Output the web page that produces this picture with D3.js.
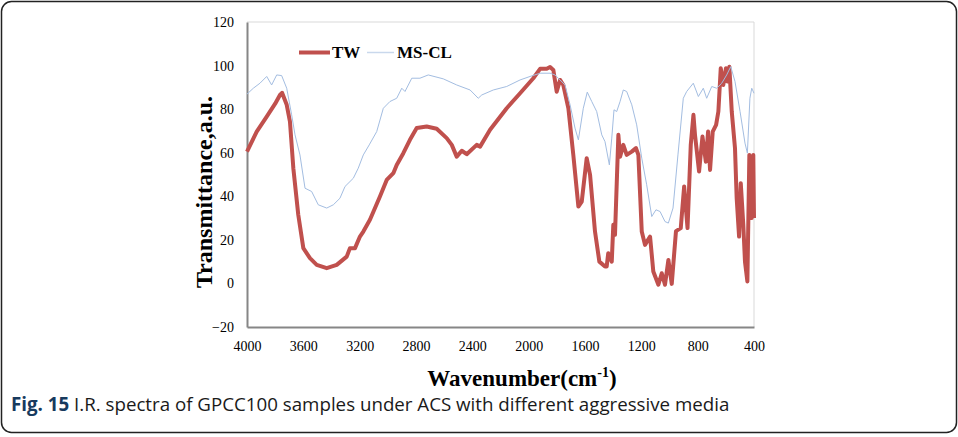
<!DOCTYPE html>
<html>
<head>
<meta charset="utf-8">
<script src="https://cdn.jsdelivr.net/npm/d3@7"></script>
<style>
  body { margin: 0; background: #fff; }
  svg { display: block; }
</style>
</head>
<body>
<svg id="chart" width="958" height="437"></svg>
<script>
// series: [wavenumber, transmittance]
var twData = [
  [4000, 60.5], [3931, 69.7], [3860, 76.6], [3800, 82.5], [3766, 86.5], [3751, 87.5],
  [3718, 82], [3695, 74.3], [3671, 52.9], [3636, 31.5], [3600, 16.2], [3553, 11.6],
  [3505, 8.5], [3434, 7.0], [3363, 8.5], [3292, 12.3], [3269, 16.2], [3233, 16.2],
  [3198, 21.5], [3174, 23.8], [3127, 29.2], [3056, 39.9], [3008, 47.5], [2961, 50.6],
  [2937, 54.4], [2890, 59.8], [2843, 65.9], [2795, 71.3], [2724, 72], [2653, 71],
  [2582, 66.7], [2546, 63.6], [2511, 58.2], [2475, 60.9], [2440, 59.3], [2369, 63.6],
  [2345, 62.8], [2274, 70.5], [2156, 80.4], [2061, 87.3], [1967, 94.2], [1919, 98.5],
  [1872, 98.5], [1848, 99.3], [1825, 98], [1801, 88], [1777, 93.4], [1754, 91.1],
  [1718, 80.4], [1683, 59], [1647, 35.3], [1623, 37.6], [1588, 57.5], [1564, 49.8],
  [1529, 23.8], [1498, 10], [1458, 7.8], [1446, 7.8], [1435, 13.9], [1410, 10],
  [1399, 26.9], [1387, 22.3], [1363, 68.2], [1351, 58.2], [1328, 63.6], [1304, 59],
  [1268, 60.5], [1238, 62.1], [1221, 59], [1197, 23.8], [1174, 17.7], [1138, 21.5],
  [1115, 5.5], [1079, -0.6], [1055, 4.7], [1032, -0.6], [1008, 10.8], [984, -0.2],
  [954, 24], [920, 25.4], [896, 44.5], [872, 25.4], [849, 63.6], [830, 77.4],
  [819, 68.2], [790, 51.4], [766, 67.4], [742, 55.9], [726, 69.7], [712, 52.1],
  [693, 69.7], [669, 72.8], [653, 78.9], [636, 98.8], [618, 91.1], [599, 98.8],
  [589, 92.7], [575, 99.5], [558, 78.9], [535, 62.1], [523, 39.1], [506, 21.5],
  [494, 46], [476, 26.9], [464, 10], [447, 0.9], [433, 59], [416, 30], [405, 59], [400, 30]
];

var msclData = [
  [4000, 86.9], [3955, 89.6], [3908, 91.9], [3860, 95], [3825, 91.1], [3789, 95.7],
  [3754, 95.4], [3718, 89.6], [3683, 77.4], [3659, 68.2], [3624, 59], [3588, 43.7],
  [3541, 42.2], [3494, 36.1], [3434, 34.6], [3387, 36.1], [3340, 39.1], [3304, 44.5],
  [3245, 48.3], [3210, 52.9], [3174, 59], [3132, 63.6], [3079, 69.7], [3032, 80.4],
  [2985, 83.5], [2937, 85], [2901, 89.6], [2878, 88.1], [2830, 94.2], [2772, 94.2],
  [2713, 95.7], [2606, 93.9], [2511, 91.1], [2416, 88.8], [2358, 85], [2333, 86.5],
  [2251, 88.8], [2156, 90.4], [2061, 93.4], [1990, 95], [1919, 96.5], [1848, 96.5],
  [1813, 95.7], [1777, 93.4], [1742, 91.1], [1706, 82], [1671, 71.3], [1647, 65.9],
  [1612, 80.4], [1584, 87.8], [1552, 83.5], [1517, 78.9], [1481, 68.2], [1458, 65.1],
  [1427, 54.4], [1410, 66.7], [1394, 79.7], [1375, 78.9], [1351, 83.5], [1328, 88.8],
  [1304, 88.1], [1268, 82], [1233, 72.8], [1197, 57.5], [1162, 45.3], [1126, 30.7],
  [1096, 33.8], [1067, 33], [1032, 28.4], [1008, 27.7], [975, 34.6], [940, 59],
  [902, 85], [878, 88.1], [831, 91.9], [795, 85.8], [760, 89.6], [736, 85],
  [700, 90.4], [665, 89.6], [629, 91.9], [594, 95.7], [565, 99.5], [535, 92.7],
  [499, 78.9], [464, 64.4], [447, 59.8], [429, 85], [416, 89.6], [400, 87.3]
];

var xTicks = [4000, 3600, 3200, 2800, 2400, 2000, 1600, 1200, 800, 400];
var yTicks = [-20, 0, 20, 40, 60, 80, 100, 120];
var seriesNames = ['TW', 'MS-CL'];

var svg = d3.select('#chart');
var plotLeft = 247, plotRight = 754, plotTop = 22, plotBottom = 327;

var x = d3.scaleLinear().domain([4000, 400]).range([plotLeft, plotRight]);
var y = d3.scaleLinear().domain([-20, 120]).range([plotBottom, plotTop]);

var serif = '"Liberation Serif", "Times New Roman", serif';

// outer frame
svg.append('rect')
    .attr('x', 1.5).attr('y', 1.5)
    .attr('width', 955).attr('height', 431)
    .attr('rx', 10).attr('ry', 10)
    .attr('fill', 'none')
    .attr('stroke', '#222')
    .attr('stroke-width', 1.5);

// plot border (top/right light)
svg.append('path')
    .attr('d', 'M' + plotLeft + ',' + plotTop + 'H' + plotRight + 'V' + plotBottom)
    .attr('fill', 'none')
    .attr('stroke', '#d9d9d9')
    .attr('stroke-width', 1);

var yAxis = svg.append('g')
    .attr('transform', 'translate(' + plotLeft + ',0)')
    .call(d3.axisLeft(y).tickValues(yTicks).tickSize(0).tickPadding(13).tickFormat(d3.format('d')));
yAxis.select('.domain').attr('stroke', '#868686').attr('stroke-width', 2);
yAxis.selectAll('text')
    .attr('font-family', serif).attr('font-size', 14).attr('fill', '#000');

var xAxis = svg.append('g')
    .attr('transform', 'translate(0,' + plotBottom + ')')
    .call(d3.axisBottom(x).tickValues(xTicks).tickSize(0).tickPadding(14).tickFormat(d3.format('d')));
xAxis.select('.domain').attr('stroke', '#868686').attr('stroke-width', 2);
xAxis.selectAll('text')
    .attr('font-family', serif).attr('font-size', 14).attr('fill', '#000');

var line = d3.line()
    .x(function (d) { return x(d[0]); })
    .y(function (d) { return y(d[1]); });

svg.append('path')
    .datum(twData)
    .attr('d', line)
    .attr('fill', 'none')
    .attr('stroke', '#C0504D')
    .attr('stroke-width', 4)
    .attr('stroke-linejoin', 'round');

svg.append('path')
    .datum(msclData)
    .attr('d', line)
    .attr('fill', 'none')
    .attr('stroke', '#A3BDE1')
    .attr('stroke-width', 1)
    .attr('stroke-linejoin', 'round');

// legend
var legend = svg.append('g');
legend.append('line')
    .attr('x1', 299).attr('x2', 330).attr('y1', 52.5).attr('y2', 52.5)
    .attr('stroke', '#C0504D').attr('stroke-width', 4);
legend.append('text')
    .attr('x', 332).attr('y', 58)
    .attr('font-family', serif).attr('font-size', 17).attr('font-weight', 'bold')
    .text(seriesNames[0]);
legend.append('line')
    .attr('x1', 367).attr('x2', 394).attr('y1', 52.5).attr('y2', 52.5)
    .attr('stroke', '#C9D8EC').attr('stroke-width', 1.5);
legend.append('text')
    .attr('x', 397).attr('y', 58)
    .attr('font-family', serif).attr('font-size', 17).attr('font-weight', 'bold')
    .text(seriesNames[1]);

// axis titles
svg.append('text')
    .attr('transform', 'translate(212,' + 192 + ') rotate(-90)')
    .attr('text-anchor', 'middle')
    .attr('font-family', serif).attr('font-size', 24).attr('font-weight', 'bold')
    .text('Transmittance,a.u.');

var xt = svg.append('text')
    .attr('x', 522).attr('y', 386)
    .attr('text-anchor', 'middle')
    .attr('font-family', serif).attr('font-size', 23).attr('font-weight', 'bold');
xt.append('tspan').text('Wavenumber(cm');
xt.append('tspan').attr('font-size', 14).attr('dy', -9).text('-1');
xt.append('tspan').attr('dy', 9).text(')');

// caption
var cap = svg.append('text')
    .attr('x', 11).attr('y', 411)
    .attr('font-family', '"Open Sans", "Noto Sans", sans-serif')
    .attr('font-size', 18).attr('fill', '#1a1a1a');
cap.append('tspan').attr('font-weight', 'bold').attr('fill', '#173a5e').text('Fig. 15');
cap.append('tspan').text(' I.R. spectra of GPCC100 samples under ACS with different aggressive media');
var w = cap.node().getComputedTextLength();
cap.attr('font-size', 18 * 719 / w);
</script>
</body>
</html>
